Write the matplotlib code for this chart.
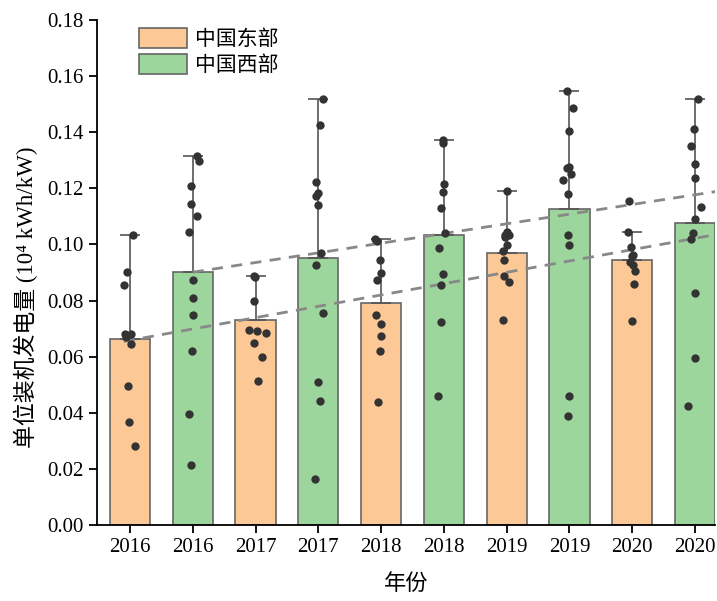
import numpy as np
import matplotlib.pyplot as plt

plt.rcParams['font.family'] = ['Liberation Serif', 'Noto Sans CJK SC']

years = ['2016', '2017', '2018', '2019', '2020']
groups = ['中国东部', '中国西部']

east_mean = [0.0662, 0.0729, 0.0793, 0.0969, 0.0946]
west_mean = [0.0900, 0.0952, 0.1034, 0.1128, 0.1077]
east_err = [0.0370, 0.0160, 0.0225, 0.0223, 0.0100]
west_err = [0.0417, 0.0568, 0.0338, 0.0419, 0.0441]

# individual points (values) and their horizontal jitter
east_pts = [
    [0.1032, 0.0900, 0.0857, 0.0679, 0.0682, 0.0670, 0.0646, 0.0496, 0.0366, 0.0283],
    [0.0889, 0.0883, 0.0798, 0.0694, 0.0691, 0.0685, 0.0649, 0.0599, 0.0513],
    [0.1020, 0.1014, 0.0943, 0.0899, 0.0875, 0.0747, 0.0717, 0.0672, 0.0621, 0.0438],
    [0.1192, 0.1043, 0.1034, 0.1032, 0.1028, 0.0997, 0.0977, 0.0943, 0.0886, 0.0866, 0.0732],
    [0.1156, 0.1046, 0.0990, 0.0964, 0.0958, 0.0937, 0.0925, 0.0904, 0.0860, 0.0727],
]
east_jit = [
    [0.05, -0.05, -0.10, -0.08, 0.01, -0.07, 0.02, -0.03, -0.02, 0.08],
    [-0.03, -0.01, -0.03, -0.11, 0.03, 0.17, -0.02, 0.10, 0.04],
    [-0.09, -0.06, -0.02, 0.0, -0.07, -0.08, 0.0, 0.0, -0.01, -0.05],
    [0.0, 0.0, -0.02, 0.04, -0.03, 0.01, -0.06, -0.05, -0.04, 0.04, -0.06],
    [-0.05, -0.06, -0.02, 0.01, 0.0, -0.03, 0.01, 0.04, 0.03, 0.0],
]
west_pts = [
    [0.1317, 0.1298, 0.1210, 0.1144, 0.1103, 0.1043, 0.0872, 0.0810, 0.0747, 0.0621, 0.0396, 0.0213],
    [0.1520, 0.1427, 0.1224, 0.1183, 0.1174, 0.1142, 0.0969, 0.0926, 0.0757, 0.0509, 0.0441, 0.0164],
    [0.1372, 0.1362, 0.1215, 0.1188, 0.1131, 0.1042, 0.0988, 0.0895, 0.0854, 0.0722, 0.0461],
    [0.1547, 0.1488, 0.1405, 0.1277, 0.1273, 0.1250, 0.1230, 0.1179, 0.1034, 0.0998, 0.0459, 0.0389],
    [0.1518, 0.1411, 0.1352, 0.1287, 0.1237, 0.1132, 0.1090, 0.1041, 0.1019, 0.0826, 0.0594, 0.0423],
]
west_jit = [
    [0.06, 0.10, -0.02, -0.02, 0.075, -0.06, 0.01, 0.0, 0.0, -0.01, -0.06, -0.03],
    [0.07, 0.02, -0.03, 0.0, -0.04, 0.0, 0.05, -0.04, 0.07, 0.0, 0.02, -0.05],
    [-0.02, -0.01, 0.0, -0.01, -0.05, 0.02, -0.07, -0.02, -0.05, -0.05, -0.10],
    [-0.04, 0.06, 0.0, -0.01, -0.04, 0.03, -0.10, -0.02, -0.02, -0.01, 0.0, -0.02],
    [0.05, -0.02, -0.06, 0.0, 0.0, 0.09, 0.0, -0.03, -0.06, 0.0, 0.0, -0.11],
]
# west trend read at first and last west bar
west_trend = [0.0901, 0.1177]

c_east = '#fcc996'
c_west = '#9dd69c'

fig = plt.figure(figsize=(7.17, 6.01), dpi=100)
ax = fig.add_axes([0.1353, 0.1265, 0.862, 0.8402])

xe = np.arange(5) * 2
xw = xe + 1
w = 0.64

ax.bar(xe, east_mean, w, color=c_east, edgecolor='#666666', lw=1.2, label=groups[0], zorder=2)
ax.bar(xw, west_mean, w, color=c_west, edgecolor='#666666', lw=1.2, label=groups[1], zorder=2)
ax.errorbar(xe, east_mean, yerr=[np.zeros(5), east_err], fmt='none', ecolor='#555555',
            elinewidth=1.2, capsize=7, capthick=1.2, zorder=3)
ax.errorbar(xw, west_mean, yerr=[np.zeros(5), west_err], fmt='none', ecolor='#555555',
            elinewidth=1.2, capsize=7, capthick=1.2, zorder=3)

xmax = 9.32
# trend lines
k, b = np.polyfit(xe, east_mean, 1)
xx = np.array([-0.1, xmax])
ax.plot(xx, k * xx + b, ls=(0, (4, 3)), color='#888888', lw=2.0, zorder=4)
k2, b2 = np.polyfit([xw[0], xw[-1]], west_trend, 1)
xx2 = np.array([xw[0], xmax])
ax.plot(xx2, k2 * xx2 + b2, ls=(0, (4, 3)), color='#888888', lw=2.0, zorder=4)

for i in range(5):
    ax.scatter(xe[i] + np.array(east_jit[i]), east_pts[i], s=36, color='#333333', lw=0, zorder=5)
    ax.scatter(xw[i] + np.array(west_jit[i]), west_pts[i], s=36, color='#333333', lw=0, zorder=5)

ax.set_xlim(-0.525, xmax)
ax.set_ylim(0, 0.18)
ax.set_yticks(np.arange(0, 0.181, 0.02))
ax.set_yticklabels(['%.2f' % v for v in np.arange(0, 0.181, 0.02)])
ax.set_xticks(np.arange(10))
ax.set_xticklabels([y for y in years for _ in range(2)])
ax.tick_params(labelsize=15, length=6, width=1.3, direction='out')
for s in ['top', 'right']:
    ax.spines[s].set_visible(False)
for s in ['left', 'bottom']:
    ax.spines[s].set_linewidth(1.3)

ax.set_xlabel('年份', fontsize=16, labelpad=12)
ax.set_ylabel('单位装机发电量 (10⁴ kWh/kW)', fontsize=16.5)
ax.yaxis.set_label_coords(-0.095, 0.45)

ax.legend(loc='upper left', bbox_to_anchor=(0.068, 0.985), frameon=False, fontsize=15,
          handlelength=2.3, handleheight=1.1, handletextpad=0.4, labelspacing=0.2,
          borderpad=0, borderaxespad=0)

fig.savefig('out.png', dpi=100)
